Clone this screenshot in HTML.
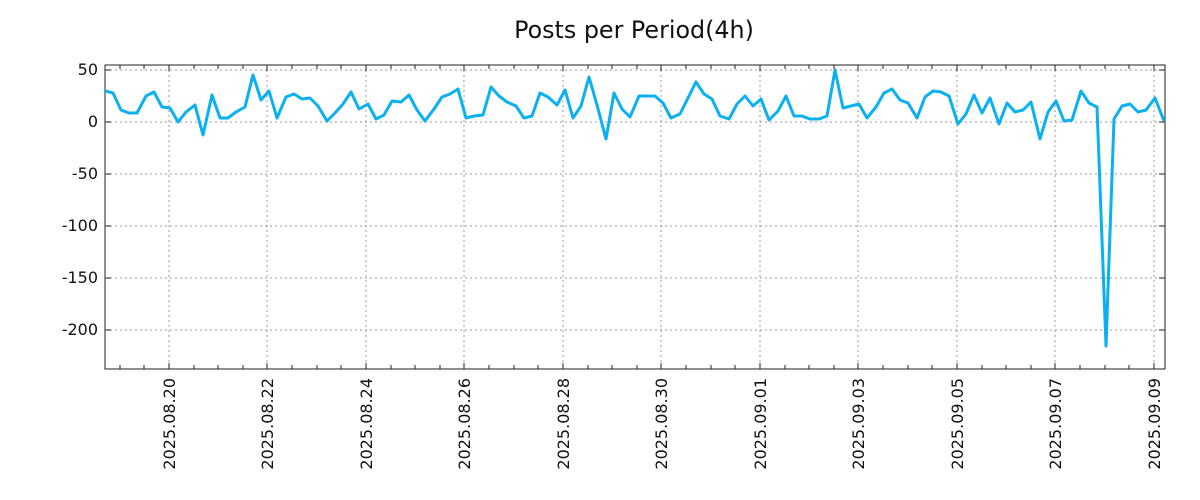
<!DOCTYPE html><html><head><style>body{margin:0;background:#fff}svg{display:block}text{font-family:"DejaVu Sans","Liberation Sans",sans-serif;fill:#111}</style></head><body>
<svg width="1200" height="500" viewBox="0 0 1200 500">
<text x="634" y="38" font-size="23.8" text-anchor="middle">Posts per Period(4h)</text>
<g stroke="#999" stroke-width="1" stroke-dasharray="2,3">
<line x1="105" x2="1165" y1="70" y2="70"/><line x1="105" x2="1165" y1="122" y2="122"/><line x1="105" x2="1165" y1="174" y2="174"/><line x1="105" x2="1165" y1="226" y2="226"/><line x1="105" x2="1165" y1="278" y2="278"/><line x1="105" x2="1165" y1="330" y2="330"/>
<line x1="169" x2="169" y1="65" y2="369"/><line x1="267" x2="267" y1="65" y2="369"/><line x1="366" x2="366" y1="65" y2="369"/><line x1="464" x2="464" y1="65" y2="369"/><line x1="563" x2="563" y1="65" y2="369"/><line x1="661" x2="661" y1="65" y2="369"/><line x1="760" x2="760" y1="65" y2="369"/><line x1="858" x2="858" y1="65" y2="369"/><line x1="957" x2="957" y1="65" y2="369"/><line x1="1055" x2="1055" y1="65" y2="369"/><line x1="1154" x2="1154" y1="65" y2="369"/>
</g>
<g stroke="#222" stroke-width="1">
<path d="M120,65v4M144,65v4M169,65v6M194,65v4M218,65v4M243,65v4M267,65v6M292,65v4M317,65v4M341,65v4M366,65v6M391,65v4M415,65v4M440,65v4M464,65v6M489,65v4M514,65v4M538,65v4M563,65v6M588,65v4M612,65v4M637,65v4M661,65v6M686,65v4M711,65v4M735,65v4M760,65v6M785,65v4M809,65v4M834,65v4M858,65v6M883,65v4M908,65v4M932,65v4M957,65v6M982,65v4M1006,65v4M1031,65v4M1055,65v6M1080,65v4M1105,65v4M1129,65v4M1154,65v6"/>
<path d="M120,369v-4M144,369v-4M169,369v-6M194,369v-4M218,369v-4M243,369v-4M267,369v-6M292,369v-4M317,369v-4M341,369v-4M366,369v-6M391,369v-4M415,369v-4M440,369v-4M464,369v-6M489,369v-4M514,369v-4M538,369v-4M563,369v-6M588,369v-4M612,369v-4M637,369v-4M661,369v-6M686,369v-4M711,369v-4M735,369v-4M760,369v-6M785,369v-4M809,369v-4M834,369v-4M858,369v-6M883,369v-4M908,369v-4M932,369v-4M957,369v-6M982,369v-4M1006,369v-4M1031,369v-4M1055,369v-6M1080,369v-4M1105,369v-4M1129,369v-4M1154,369v-6"/>
<path d="M105,70h6M105,122h6M105,174h6M105,226h6M105,278h6M105,330h6M1165,70h-6M1165,122h-6M1165,174h-6M1165,226h-6M1165,278h-6M1165,330h-6"/>
<rect x="105" y="65" width="1060" height="304" fill="none"/>
</g>
<g font-size="16" text-anchor="end">
<text x="98" y="75">50</text><text x="98" y="127">0</text><text x="98" y="179">-50</text><text x="98" y="231">-100</text><text x="98" y="283">-150</text><text x="98" y="335">-200</text>
</g>
<g font-size="16" text-anchor="end">
<text transform="translate(175,378) rotate(-90)">2025.08.20</text>
<text transform="translate(273,378) rotate(-90)">2025.08.22</text>
<text transform="translate(372,378) rotate(-90)">2025.08.24</text>
<text transform="translate(470,378) rotate(-90)">2025.08.26</text>
<text transform="translate(569,378) rotate(-90)">2025.08.28</text>
<text transform="translate(667,378) rotate(-90)">2025.08.30</text>
<text transform="translate(766,378) rotate(-90)">2025.09.01</text>
<text transform="translate(864,378) rotate(-90)">2025.09.03</text>
<text transform="translate(963,378) rotate(-90)">2025.09.05</text>
<text transform="translate(1061,378) rotate(-90)">2025.09.07</text>
<text transform="translate(1160,378) rotate(-90)">2025.09.09</text>
</g>
<svg x="105" y="65" width="1060" height="304" viewBox="105 65 1060 304" overflow="hidden">
<polyline fill="none" stroke="#0bb0f0" stroke-width="3" stroke-linejoin="round" points="105,91 113,93 121,110 129,113 137,113 146,96 154,92 162,107 170,108 178,122 186,112 195,105 203,135 212,95 220,118 228,118 236,112 245,107 253,75 261,100 269,91 277,118 286,97 294,94 302,99 310,98 318,106 327,121 335,113 343,104 351,92 359,109 368,104 376,119 384,115 392,101 401,102 409,95 417,110 425,121 434,109 442,97 450,94 458,89 466,118 474,116 483,115 491,87 499,96 507,102 516,106 524,118 532,116 540,93 548,97 557,105 565,90 573,118 581,106 589,77 597,105 606,139 614,93 622,109 630,117 639,96 647,96 655,96 663,103 671,118 680,114 688,98 696,82 704,94 712,99 720,116 729,119 737,104 745,96 753,106 761,99 769,120 778,111 786,96 794,116 802,116 810,119 819,119 827,116 835,70 843,108 851,106 859,104 867,118 876,107 884,93 892,89 900,100 908,103 917,118 925,97 933,91 941,92 949,96 958,124 966,114 974,95 982,113 990,98 999,124 1007,103 1015,112 1023,110 1031,102 1040,139 1048,112 1056,101 1064,121 1072,120 1081,91 1089,103 1097,107 1106,346 1114,119 1122,106 1130,104 1138,112 1146,110 1155,98 1164,121"/>
</svg>
</svg></body></html>
